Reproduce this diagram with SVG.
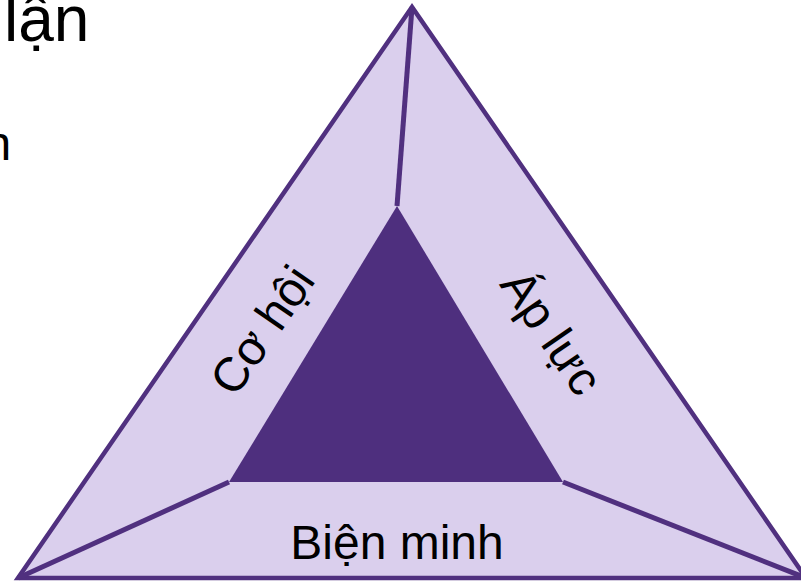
<svg xmlns="http://www.w3.org/2000/svg" width="801" height="582" viewBox="0 0 801 582">
<style>
.lbl{font-family:"Liberation Sans",Arial,sans-serif;fill:#000;}
.edge{stroke:#50307f;stroke-width:4.5;fill:#dacfed;stroke-linejoin:miter;}
.link{stroke:#50307f;stroke-width:5;fill:none;}
</style>
<rect width="801" height="582" fill="#fff"/>
<g id="title">
<text class="lbl" x="4" y="41" font-size="64">lận</text>
<text class="lbl" x="-15.5" y="160" font-size="48">n</text>
</g>
<g id="outer-triangle">
<polygon class="edge" points="412,7 18,578 806,578"/>
</g>
<g id="connectors">
<line class="link" x1="412" y1="7" x2="397" y2="206"/>
<line class="link" x1="229" y1="482" x2="18" y2="578"/>
<line class="link" x1="563" y1="482" x2="806" y2="578"/>
</g>
<g id="inner-triangle">
<polygon points="397,206 229,482 563,482" fill="#4e2f7e"/>
</g>
<g id="label-co-hoi">
<text class="lbl" font-size="48" text-anchor="middle" transform="translate(262,330) rotate(-55.4)" y="0" dy="0.35em">Cơ hội</text>
</g>
<g id="label-ap-luc">
<text class="lbl" font-size="48" text-anchor="middle" transform="translate(552,332) rotate(55.4)" y="0" dy="0.35em">Áp lực</text>
</g>
<g id="label-bien-minh">
<text class="lbl" font-size="48" text-anchor="middle" x="397" y="559">Biện minh</text>
</g>
</svg>
